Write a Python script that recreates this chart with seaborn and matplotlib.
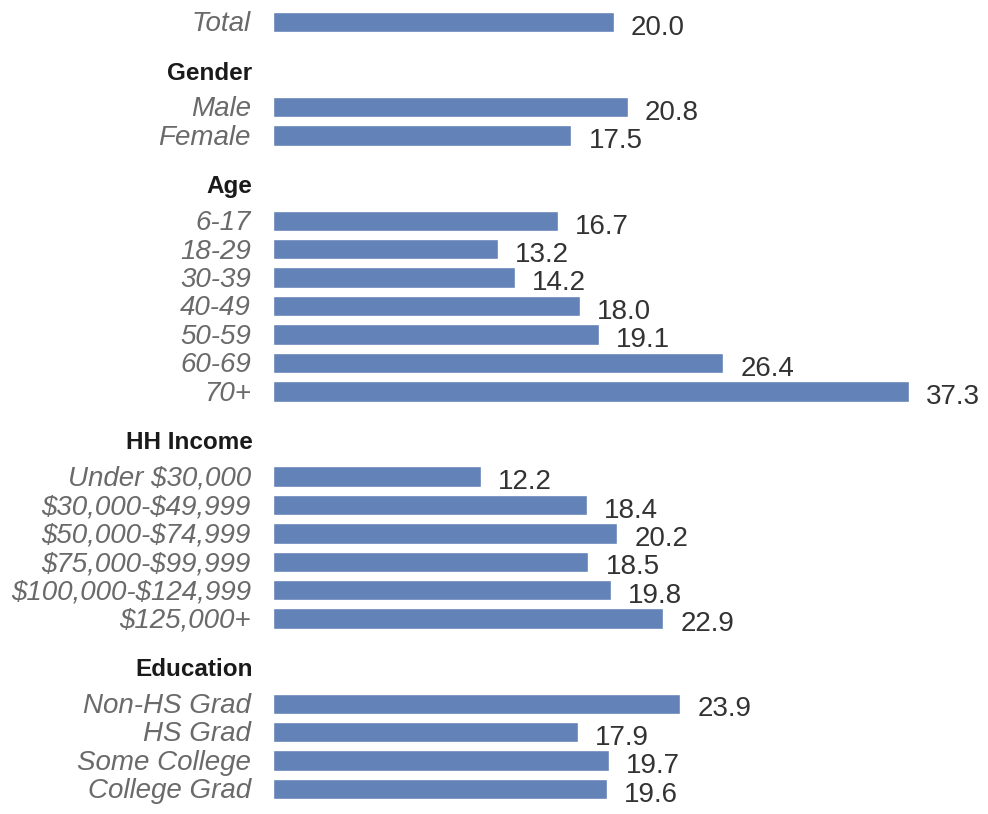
import matplotlib
matplotlib.use("Agg")
import matplotlib.pyplot as plt
import seaborn as sns
import pandas as pd

sns.set_theme(style="white")
plt.rcParams['font.family'] = ['Liberation Sans', 'DejaVu Sans']
plt.rcParams['text.parse_math'] = False

groups = ["", "Gender", "Age", "HH Income", "Education"]
group_labels = [
    ["Total"],
    ["Male", "Female"],
    ["6-17", "18-29", "30-39", "40-49", "50-59", "60-69", "70+"],
    ["Under $30,000", "$30,000-$49,999", "$50,000-$74,999", "$75,000-$99,999",
     "$100,000-$124,999", "$125,000+"],
    ["Non-HS Grad", "HS Grad", "Some College", "College Grad"],
]
group_values = [
    [20.0],
    [20.8, 17.5],
    [16.7, 13.2, 14.2, 18.0, 19.1, 26.4, 37.3],
    [12.2, 18.4, 20.2, 18.5, 19.8, 22.9],
    [23.9, 17.9, 19.7, 19.6],
]

# build rows with gaps between groups
rows = []
headers = []
pos = 0
for gi, (g, labs, vals) in enumerate(zip(groups, group_labels, group_values)):
    if gi > 0:
        pos += 2
        headers.append((g, pos - 1.2))
    for l, v in zip(labs, vals):
        rows.append({"label": l, "value": v, "pos": pos})
        pos += 1
df = pd.DataFrame(rows)

fig = plt.figure(figsize=(9.88, 8.14), dpi=100)
ax = fig.add_axes([273 / 988, 0, 682 / 988, 1])

sns.barplot(data=df, x="value", y="pos", orient="h", native_scale=True,
            color="#6282B8", saturation=1, width=0.72, ax=ax)

pitch = 28.4
ax.set_xlim(0, 40)
ax.set_ylim(27 + (814 - 789) / pitch, -22 / pitch)

for _, r in df.iterrows():
    ax.text(r["value"] + 1.0, r["pos"] + 0.2, f"{r['value']:.1f}",
            ha="left", va="center", fontsize=20, color="#333333")
    ax.text(-1.3, r["pos"] + 0.08, r["label"], ha="right", va="center",
            fontsize=20, color="#6a6a6a", style="italic")
for g, p in headers:
    ax.text(-1.2, p, g, ha="right", va="center", fontsize=17.5,
            fontweight="bold", color="#1a1a1a")

ax.set_axis_off()
fig.savefig("out.png", dpi=100)
